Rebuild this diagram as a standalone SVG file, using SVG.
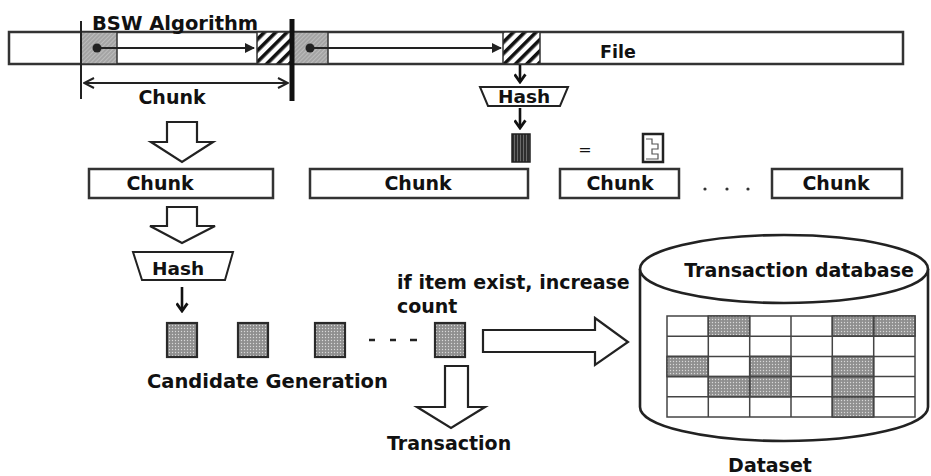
<svg xmlns="http://www.w3.org/2000/svg" width="931" height="476" viewBox="0 0 931 476">
  <style>
    text { font-family: "DejaVu Sans", Verdana, sans-serif; font-weight: bold; fill: #111; }
    .lbl { font-size: 19px; }
    .big { font-size: 19.5px; }
    .box { fill: #fff; stroke: #333; stroke-width: 2.5; }
    .ln { fill: none; stroke: #222; stroke-width: 2; }
    .blk { fill: #fff; stroke: #222; stroke-width: 2.2; stroke-linejoin: miter; }
    .cand { fill: url(#dots); stroke: #2a2a2a; stroke-width: 2.2; }
    .cell { fill: #fff; stroke: #444; stroke-width: 1.5; }
    .shade { fill: url(#dots); stroke: #444; stroke-width: 1.5; }
  </style>
  <defs>
    <!-- fine grey hatch for the window start blocks -->
    <pattern id="fine" width="3" height="3" patternUnits="userSpaceOnUse" patternTransform="rotate(45)">
      <rect width="3" height="3" fill="#a4a4a4"/>
      <line x1="0" y1="0" x2="0" y2="3" stroke="#d4d4d4" stroke-width="1"/>
    </pattern>
    <!-- coarse black hatch for the window end blocks -->
    <pattern id="coarse" width="8" height="8" patternUnits="userSpaceOnUse" patternTransform="rotate(45)">
      <rect width="8" height="8" fill="#fff"/>
      <rect x="0" y="0" width="3.6" height="8" fill="#111"/>
    </pattern>
    <!-- stippled grey for hash items -->
    <pattern id="dots" width="3" height="3" patternUnits="userSpaceOnUse">
      <rect width="3" height="3" fill="#8f8f8f"/>
      <circle cx="1.5" cy="1.5" r="0.7" fill="#d8d8d8"/>
    </pattern>
    <!-- dark striped hash value -->
    <pattern id="dark" width="3" height="3" patternUnits="userSpaceOnUse">
      <rect width="3" height="3" fill="#2e2e2e"/>
      <rect x="1" width="1" height="3" fill="#6a6a6a"/>
    </pattern>
    <marker id="tri" viewBox="0 0 10 10" refX="9" refY="5" markerWidth="5" markerHeight="5" orient="auto" markerUnits="strokeWidth">
      <path d="M0,0 L10,5 L0,10 Z" fill="#222"/>
    </marker>
    <marker id="vee" viewBox="0 0 12 12" refX="11" refY="6" markerWidth="6" markerHeight="6" orient="auto-start-reverse" markerUnits="strokeWidth">
      <path d="M1,1 L11,6 L1,11" fill="none" stroke="#222" stroke-width="2"/>
    </marker>
    <marker id="down" viewBox="0 0 12 12" refX="6" refY="10" markerWidth="5" markerHeight="5" orient="0" markerUnits="strokeWidth">
      <path d="M1,3 L6,10 L11,3" fill="none" stroke="#111" stroke-width="2.6"/>
    </marker>
  </defs>

  <!-- file with sliding window -->
  <g id="file">
    <rect class="box" x="9" y="32" width="894" height="32"/>
    <rect x="81" y="32" width="36" height="32" fill="url(#fine)" stroke="#333" stroke-width="1.5"/>
    <rect x="257" y="32" width="34" height="32" fill="url(#coarse)" stroke="#333" stroke-width="1.5"/>
    <rect x="292" y="32" width="36" height="32" fill="url(#fine)" stroke="#333" stroke-width="1.5"/>
    <rect x="503" y="32" width="37" height="32" fill="url(#coarse)" stroke="#333" stroke-width="1.5"/>
    <circle cx="97" cy="48" r="4.5" fill="#222"/>
    <circle cx="310" cy="48" r="4.5" fill="#222"/>
    <line x1="81" y1="21" x2="81" y2="99" stroke="#222" stroke-width="2"/>
    <line x1="292" y1="19" x2="292" y2="101" stroke="#111" stroke-width="5"/>
    <text class="big" x="92" y="30">BSW Algorithm</text>
    <text x="600" y="58" font-size="17.5">File</text>
  </g>

  <g id="chunk-span">
    <text class="lbl" x="172" y="104" text-anchor="middle">Chunk</text>
  </g>

  <g id="hash-top">
    <polygon points="480,87 568,87 560,106 488,106" fill="#fff" stroke="#222" stroke-width="2"/>
    <text x="524" y="103" font-size="18.5" text-anchor="middle">Hash</text>
  </g>

  <g id="hash-compare">
    <rect x="512" y="134" width="18" height="28" fill="url(#dark)" stroke="#222" stroke-width="1.5"/>
    <text x="585" y="155" font-size="16" fill="#555" style="font-weight:normal" text-anchor="middle">=</text>
    <rect x="643" y="134" width="20" height="28" fill="#fff" stroke="#222" stroke-width="2.5"/>
    <path d="M646,139 H652 V144 H658 V149 H652 V154 H658 V159 H646" fill="none" stroke="#555" stroke-width="1.2"/>
  </g>

  <g id="chunk-1">
    <rect class="box" x="89" y="169" width="184" height="29"/>
    <text class="lbl" x="160" y="190" text-anchor="middle">Chunk</text>
  </g>
  <g id="chunk-2">
    <rect class="box" x="310" y="169" width="218" height="29"/>
    <text class="lbl" x="418" y="190" text-anchor="middle">Chunk</text>
  </g>
  <g id="chunk-3">
    <rect class="box" x="560" y="169" width="119" height="29"/>
    <text class="lbl" x="620" y="190" text-anchor="middle">Chunk</text>
  </g>
  <g id="chunk-ellipsis">
    <circle cx="705" cy="189" r="1.6" fill="#333"/>
    <circle cx="727" cy="189" r="1.6" fill="#333"/>
    <circle cx="748" cy="189" r="1.6" fill="#333"/>
  </g>
  <g id="chunk-4">
    <rect class="box" x="772" y="169" width="130" height="29"/>
    <text class="lbl" x="836" y="190" text-anchor="middle">Chunk</text>
  </g>

  <g id="hash-bottom">
    <polygon points="133,252 233,252 225,280 142,280" fill="#fff" stroke="#222" stroke-width="2"/>
    <text x="178" y="275" font-size="18.5" text-anchor="middle">Hash</text>
  </g>

  <g id="candidates">
    <rect class="cand" x="167" y="323" width="30" height="34"/>
    <rect class="cand" x="238" y="323" width="30" height="34"/>
    <rect class="cand" x="315" y="323" width="30" height="34"/>
    <line x1="369" y1="340" x2="375" y2="340" stroke="#222" stroke-width="2.5"/>
    <line x1="390" y1="340" x2="396" y2="340" stroke="#222" stroke-width="2.5"/>
    <line x1="410" y1="340" x2="417" y2="340" stroke="#222" stroke-width="2.5"/>
    <rect class="cand" x="435" y="323" width="30" height="34"/>
    <text class="big" x="147" y="388">Candidate Generation</text>
  </g>

  <g id="count-note">
    <text class="lbl" x="397" y="289">if item exist, increase</text>
    <text class="lbl" x="397" y="313">count</text>
  </g>

  <g id="transaction">
    <text class="lbl" x="387" y="450">Transaction</text>
  </g>

  <g id="database">
    <path d="M640,269 V407 A144,34 0 0 0 928,407 V269" fill="#fff" stroke="#222" stroke-width="2.6"/>
    <ellipse cx="784" cy="269" rx="144" ry="34" fill="#fff" stroke="#222" stroke-width="2.6"/>
    <text class="lbl" x="799" y="277" text-anchor="middle">Transaction database</text>
    <g id="grid">
      <rect class="cell" x="667" y="316" width="248" height="101"/>
      <rect class="shade" x="708.3" y="316" width="41.3" height="20.2"/>
      <rect class="shade" x="832.3" y="316" width="41.3" height="20.2"/>
      <rect class="shade" x="873.7" y="316" width="41.3" height="20.2"/>
      <rect class="shade" x="667" y="356.4" width="41.3" height="20.2"/>
      <rect class="shade" x="749.7" y="356.4" width="41.3" height="20.2"/>
      <rect class="shade" x="832.3" y="356.4" width="41.3" height="20.2"/>
      <rect class="shade" x="708.3" y="376.6" width="41.3" height="20.2"/>
      <rect class="shade" x="749.7" y="376.6" width="41.3" height="20.2"/>
      <rect class="shade" x="832.3" y="376.6" width="41.3" height="20.2"/>
      <rect class="shade" x="832.3" y="396.8" width="41.3" height="20.2"/>
      <path d="M708.3,316 V417 M749.7,316 V417 M791,316 V417 M832.3,316 V417 M873.7,316 V417 M667,336.2 H915 M667,356.4 H915 M667,376.6 H915 M667,396.8 H915" fill="none" stroke="#444" stroke-width="1.5"/>
    </g>
    <text class="lbl" x="770" y="472" text-anchor="middle">Dataset</text>
  </g>

  <!-- connectors -->
  <g id="connectors">
    <line class="ln" x1="100" y1="48" x2="254" y2="48" marker-end="url(#tri)"/>
    <line class="ln" x1="313" y1="48" x2="501" y2="48" marker-end="url(#tri)"/>
    <line class="ln" x1="84" y1="83" x2="288" y2="83" marker-start="url(#vee)" marker-end="url(#vee)"/>
    <line x1="520" y1="65" x2="520" y2="82" stroke="#111" stroke-width="2.6" marker-end="url(#down)"/>
    <line x1="520" y1="108" x2="520" y2="128" stroke="#111" stroke-width="2.6" marker-end="url(#down)"/>
    <line x1="182" y1="287" x2="182" y2="311" stroke="#111" stroke-width="2.6" marker-end="url(#down)"/>
    <path class="blk" d="M167,122 H197 V142 H213 L182,162 L151,142 H167 Z"/>
    <path class="blk" d="M167,207 H197 V226 H215 L182,243 L150,226 H167 Z"/>
    <path class="blk" d="M483,330 H595 V318 L628,342 L595,365 V352 H483 Z"/>
    <path class="blk" d="M445,366 H468 V407 H485 L451,428 L417,407 H445 Z"/>
  </g>
</svg>
